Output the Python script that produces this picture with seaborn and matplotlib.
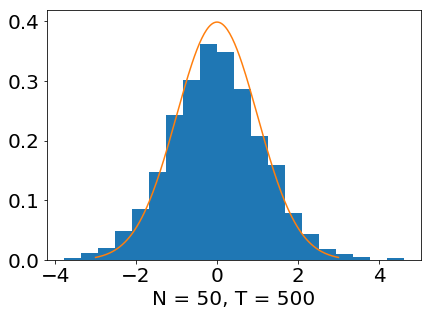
import numpy as np
import pandas as pd
import matplotlib
matplotlib.use("Agg")
import matplotlib.pyplot as plt
import seaborn as sns

# histogram (density, 20 bins)
bin_lo = -3.79
bin_hi = 4.62
n_bins = 20
heights = [0.004, 0.012, 0.021, 0.049, 0.086, 0.148, 0.243, 0.302, 0.363, 0.348,
           0.287, 0.208, 0.159, 0.079, 0.044, 0.019, 0.010, 0.005, 0.0, 0.003]

# standard normal reference curve
mu, sigma = 0.0, 1.0
curve_lo, curve_hi = -3.0, 3.0

xlabel = "N = 50, T = 500"

edges = np.linspace(bin_lo, bin_hi, n_bins + 1)
centers = (edges[:-1] + edges[1:]) / 2
df = pd.DataFrame({"x": centers, "h": heights})

plt.rcParams["font.size"] = 20
fig = plt.figure(figsize=(431 / 72, 316 / 72), dpi=72)
ax = fig.add_axes([0.108, 0.177, 0.869, 0.791])

sns.histplot(data=df, x="x", weights="h", bins=list(edges), stat="count",
             color="#1f77b4", alpha=1, edgecolor="none", linewidth=0, ax=ax)

xs = np.linspace(curve_lo, curve_hi, 200)
ys = np.exp(-0.5 * ((xs - mu) / sigma) ** 2) / (sigma * np.sqrt(2 * np.pi))
sns.lineplot(x=xs, y=ys, color="#ff7f0e", ax=ax)

ax.set_xlabel(xlabel)
ax.set_ylabel("")
ax.set_yticks([0.0, 0.1, 0.2, 0.3, 0.4])
ax.set_xticks([-4, -2, 0, 2, 4])
ax.set_xlim(bin_lo - 0.05 * (bin_hi - bin_lo), bin_hi + 0.05 * (bin_hi - bin_lo))
ax.set_ylim(0, 0.419)

fig.savefig("out.png", dpi=72)
